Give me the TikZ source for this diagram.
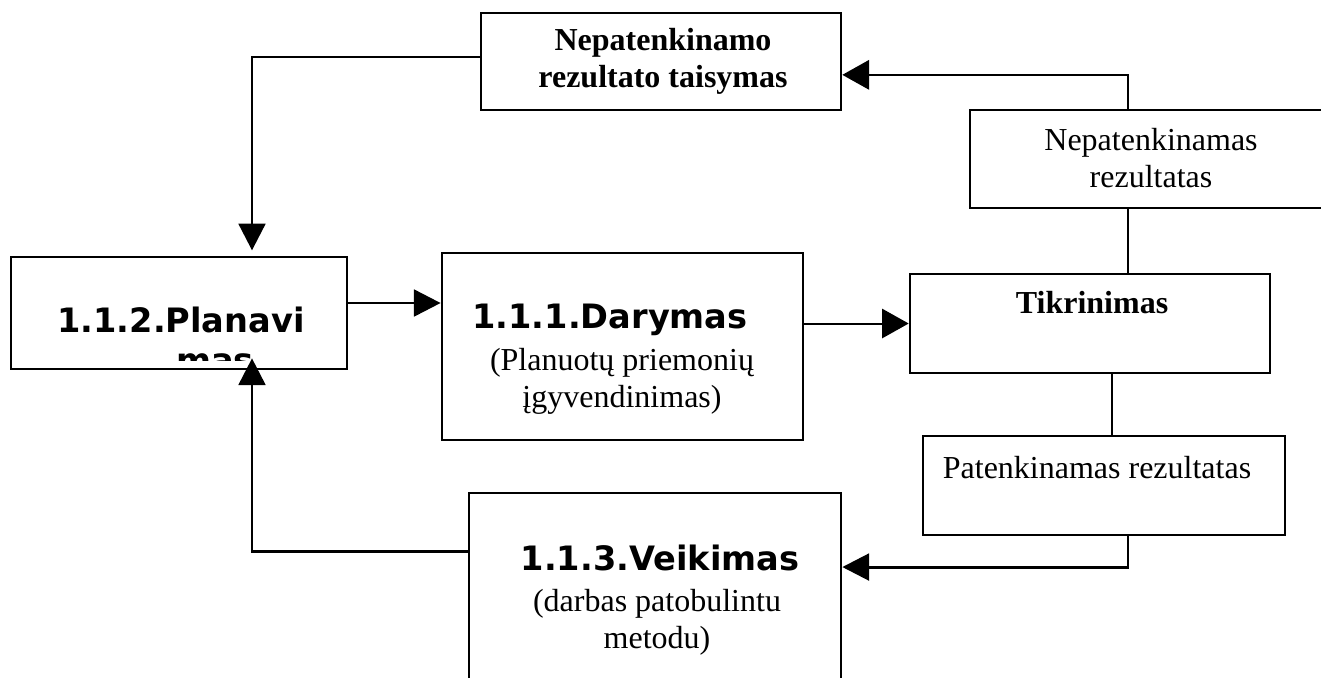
\documentclass[tikz,border=0pt]{standalone}
\usepackage{fontspec}
\setmainfont{Liberation Serif}
\newfontfamily\headsans{DejaVu Sans}
\usetikzlibrary{arrows.meta, positioning}
\tikzset{
  box/.style={rectangle, draw, line width=1pt, inner sep=0pt},
  hs/.style={font=\headsans\bfseries\fontsize{12.6}{15}\selectfont, inner sep=0pt, align=center},
  tx/.style={font=\fontsize{12}{13.8}\selectfont, inner sep=0pt, align=center},
  tb/.style={font=\bfseries\fontsize{12}{13.8}\selectfont, inner sep=0pt, align=center},
  arrk/.style={-{Triangle[length=10pt, width=10pt]}, line width=1.1pt},
  arrn/.style={-{Triangle[length=10pt, width=11pt]}, line width=0.75pt},
  ln/.style={line width=0.75pt},
}

\begin{document}
\begin{tikzpicture}[x=0.375pt, y=-0.375pt]
  \useasboundingbox (0,0) rectangle (1321,677);

  % Boxes
  \node[box, minimum width=126pt, minimum height=42pt] (pla) at (179,313) {};
  \node[box, minimum width=135.4pt, minimum height=70.1pt] (dar) at (622.5,346.5) {};
  \node[box, minimum width=135pt, minimum height=37.1pt] (tik) at (1090,323.5) {};
  \node[box, minimum width=161.25pt, minimum height=36.75pt] (nep) at (1185,159) {};
  \node[box, minimum width=135pt, minimum height=36.4pt] (tai) at (661,61.5) {};
  \node[box, minimum width=135.75pt, minimum height=37.1pt] (pat) at (1104,485.5) {};
  \node[box, minimum width=139.5pt, minimum height=85.1pt] (vei) at (655,606.5) {};

  % Texts (base = last line)
  \begin{scope}
    \clip (pla.north west) rectangle (347,360);
    \node[hs, anchor=base] (plat) at (181,332) {1.1.2.Planavi};
    \node[hs, anchor=base] (plam) at (215,372) {mas};
  \end{scope}
  \node[hs, anchor=base] (dart) at (610,328) {1.1.1.Darymas};
  \node[tx, anchor=base] (dars) at (622,407) {(Planuotų priemonių\\įgyvendinimas)};
  \node[tb, anchor=base] (tikt) at (1092,313) {Tikrinimas};
  \node[tx, anchor=base] (nept) at (1151,187) {Nepatenkinamas\\rezultatas};
  \node[tb, anchor=base] (tait) at (663,87) {Nepatenkinamo\\rezultato taisymas};
  \node[tx, anchor=base] (patt) at (1097,478) {Patenkinamas rezultatas};
  \node[hs, anchor=base] (veit) at (660,570) {1.1.3.Veikimas};
  \node[tx, anchor=base] (veis) at (657,648) {(darbas patobulintu\\metodu)};

  % Risers
  \coordinate (lx) at (252,0);
  \coordinate (mx) at (1112,0);
  \coordinate (rx) at (1128,0);

  % Arrows
  \draw[arrk] ([yshift=3.75pt]pla.east) -- ([yshift=3.75pt]pla.east -| dar.west);
  \draw[arrn] (dar.east |- tik.west) -- (tik.west);
  \draw[ln] (rx |- tik.north) -- (rx |- nep.south);
  \draw[arrn] (rx |- nep.north) |- ([yshift=-5pt]tai.east);
  \draw[arrk] ([yshift=1.7pt]tai.west) -| ([yshift=2pt]lx |- pla.north);
  \draw[ln] (mx |- tik.south) -- (mx |- pat.north);
  \draw[arrk] (rx |- pat.south) |- ([yshift=14.8pt]vei.east);
  \draw[arrk, shorten >=-4.5pt] ([yshift=20.8pt]vei.west) -| (lx |- pla.south);

\end{tikzpicture}
\end{document}
